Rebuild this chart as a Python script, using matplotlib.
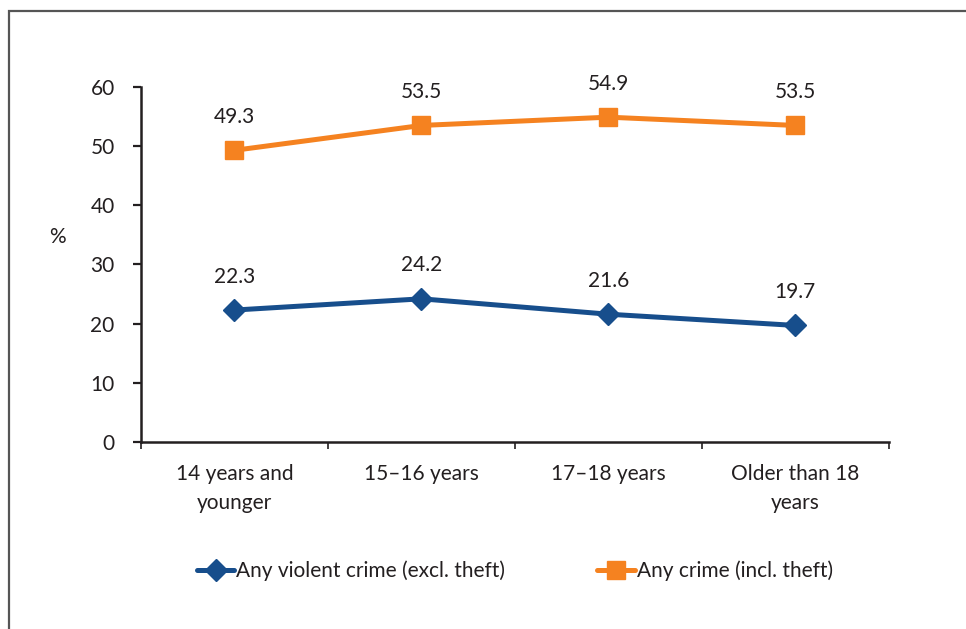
import matplotlib
matplotlib.use("Agg")
import matplotlib.pyplot as plt
from matplotlib.patches import Rectangle
import numpy as np

# Age groups and the share (%) reporting each type of offence
age_groups = ["14 years and\nyounger", "15\u201316 years", "17\u201318 years", "Older than 18\nyears"]
violent = [22.3, 24.2, 21.6, 19.7]
any_crime = [49.3, 53.5, 54.9, 53.5]

BLUE = "#174E8C"
ORANGE = "#F58220"
INK = "#231F20"

plt.rcParams["font.family"] = ["Lato", "DejaVu Sans"]
plt.rcParams["font.size"] = 15

fig = plt.figure(figsize=(9.66, 6.29), dpi=100)
ax = fig.add_axes([0.146, 0.2973, 0.774, 0.5644])

# Outer frame: only top and left edges are visible
fig.patches.append(Rectangle((9 / 966, -0.1), 1.2, 1.1 - 11 / 629,
                             transform=fig.transFigure, fill=False,
                             edgecolor="#555555", linewidth=1.6))

x = np.arange(len(age_groups)) + 0.5
ax.plot(x, violent, color=BLUE, linewidth=3.6, marker="D", markersize=11,
        label="Any violent crime (excl. theft)", solid_capstyle="round")
ax.plot(x, any_crime, color=ORANGE, linewidth=3.6, marker="s", markersize=13,
        label="Any crime (incl. theft)", solid_capstyle="round")

for series in (violent, any_crime):
    for xi, v in zip(x, series):
        ax.annotate(f"{v:.1f}", (xi, v), xytext=(0, 24), textcoords="offset points",
                    ha="center", va="center", color=INK)

ax.set_xlim(0, 4)
ax.set_ylim(0, 60)
ax.set_yticks(range(0, 61, 10))
ax.set_xticks(range(0, 5))
ax.set_xticklabels([])
ax.set_xticks(x, minor=True)
ax.set_xticklabels(age_groups, minor=True, linespacing=1.55)
ax.tick_params(axis="x", which="major", length=5, width=1.2, color=INK, direction="out")
ax.tick_params(axis="x", which="minor", length=0, pad=16, labelcolor=INK)
ax.tick_params(axis="y", length=6, width=1.6, color=INK, pad=13, labelcolor=INK)

for side in ["top", "right"]:
    ax.spines[side].set_visible(False)
for side in ["left", "bottom"]:
    ax.spines[side].set_color(INK)
    ax.spines[side].set_linewidth(1.8)

fig.text(57 / 966, 1 - 237 / 629, "%", ha="center", va="center", color=INK)

fig.legend(loc="center", bbox_to_anchor=(0.533, 0.092), ncol=2, frameon=False,
           handlelength=1.8, handletextpad=0.1, columnspacing=4.4,
           labelcolor=INK)

fig.savefig("out.png", dpi=100, facecolor="white")
